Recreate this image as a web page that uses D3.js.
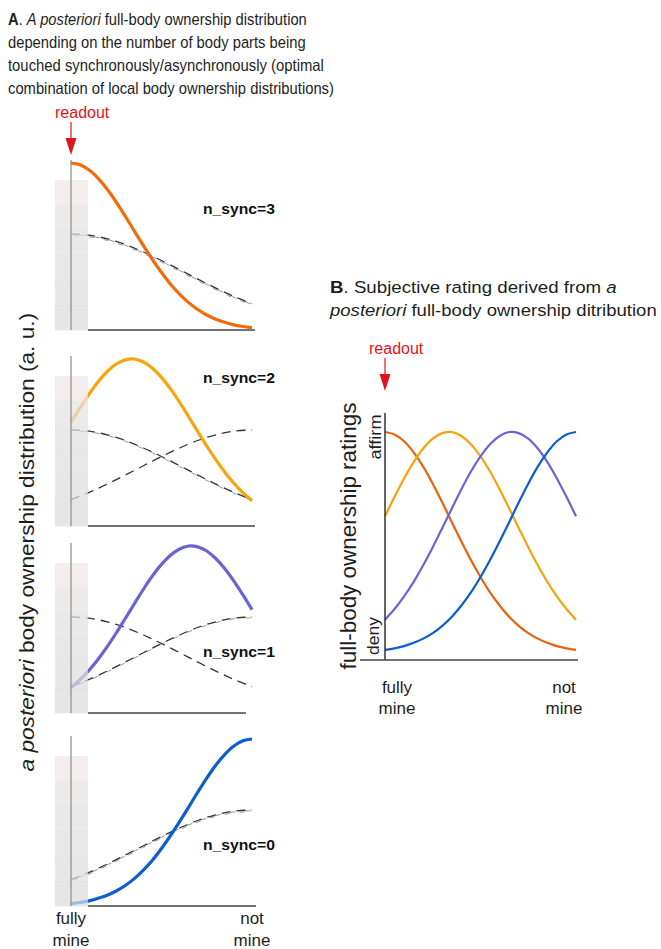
<!DOCTYPE html>
<html><head><meta charset="utf-8">
<script src="https://cdn.jsdelivr.net/npm/d3@7/dist/d3.min.js"></script>
<style>
html,body{margin:0;padding:0;background:#fff;}
svg{display:block;font-family:"Liberation Sans",Arial,Helvetica,sans-serif;}
</style></head>
<body><svg id="c" width="661" height="949"></svg>
<script>
// ---- data ----
const xGrid = [0,0.05,0.1,0.15,0.2,0.25,0.3,0.35,0.4,0.45,0.5,0.55,0.6,0.65,0.7,0.75,0.8,0.85,0.9,0.95,1];
// a posteriori full-body ownership distributions (normalised, 0..1)
const postSync3 = [1,0.989,0.958,0.908,0.843,0.766,0.681,0.592,0.505,0.421,0.344,0.274,0.215,0.164,0.123,0.090,0.065,0.046,0.031,0.021,0.014];
const postSync2 = [0.619,0.707,0.790,0.864,0.925,0.970,0.995,1.0,0.982,0.945,0.890,0.821,0.741,0.654,0.566,0.479,0.397,0.322,0.256,0.199,0.151];
const postSync1 = [0.151,0.199,0.256,0.322,0.397,0.479,0.566,0.654,0.741,0.821,0.890,0.945,0.982,1.0,0.995,0.970,0.925,0.864,0.790,0.707,0.619];
const postSync0 = [0.014,0.021,0.031,0.046,0.065,0.090,0.123,0.164,0.215,0.274,0.344,0.421,0.505,0.592,0.681,0.766,0.843,0.908,0.958,0.989,1];
// local body ownership distributions (dashed)
const likX = [0,0.1,0.2,0.3,0.4,0.5,0.6,0.7,0.8,0.9,1];
const likSync  = [0.575,0.568,0.546,0.512,0.467,0.416,0.361,0.305,0.251,0.201,0.158];
const likAsync = [0.158,0.201,0.251,0.305,0.361,0.416,0.467,0.512,0.546,0.568,0.575];
const nSync  = [3,2,1,0];
const nAsync = [0,1,2,3];
const panelLabels = ["n_sync=3","n_sync=2","n_sync=1","n_sync=0"];
const xTickLabels = [["fully","mine"],["not","mine"]];
const ratingLabels = ["deny","affirm"];
const posteriors = [postSync3,postSync2,postSync1,postSync0];
const colors = ["#f26a0c","#f7a50c","#6b62d6","#0b5dd0"];

const svg = d3.select("#c");
const txt = "#1e1e1e";
const red = "#e3121b";

// horizontally fit a text element to a target width by scaling its group
function fitGroup(g, x, w){
  const bb = g.node().getBBox();
  const s = w / bb.width;
  g.attr("transform", `translate(${x},0) scale(${s},1)`);
}

function readout(g, x, yText, y0, y1){
  g.append("text").attr("x",x-16).attr("y",yText).attr("font-size",16).attr("fill",red).text("readout");
  g.append("line").attr("x1",x).attr("x2",x).attr("y1",y0).attr("y2",y1-15).attr("stroke",red).attr("stroke-width",1.2);
  g.append("path").attr("d",`M${x-5.5},${y1-17}L${x+5.5},${y1-17}L${x},${y1}Z`).attr("fill",red);
}

// ---- Title A ----
const titleA = [
  [[["A","bold"],[". ",""],["A posteriori","italic"],[" full-body ownership distribution",""]],25,299],
  [[["depending on the number of body parts being",""]],48,298],
  [[["touched synchronously/asynchronously (optimal",""]],71,316],
  [[["combination of local body ownership distributions)",""]],94,326]
];
function titleLine(parts, x, y, w){
  const g = svg.append("g");
  const t = g.append("text").attr("x",0).attr("y",y).attr("font-size",16.5).attr("fill",txt);
  parts.forEach(([s,st])=>{
    const ts = t.append("tspan").text(s);
    if(st==="bold") ts.attr("font-weight","bold");
    if(st==="italic") ts.attr("font-style","italic");
  });
  fitGroup(g, x, w);
}
titleA.forEach(([parts,y,w])=>titleLine(parts, 8, y, w));

// ---- Panel A ----
const xA = d3.scaleLinear().domain([0,1]).range([71,252]);
const bottoms = [330,526,713,906];
const xAxisEnd = [255,255,246,256];
readout(svg, xA(0), 118, 122, 155);

const lineGen = (xs, ys, xS, yS) => d3.line().x((d,i)=>xS(xs[i])).y(d=>yS(d)).curve(d3.curveCatmullRom)(ys);

bottoms.forEach((b,i)=>{
  const g = svg.append("g");
  const yA = d3.scaleLinear().domain([0,1]).range([b, b-167]);
  const dashed = [];
  for(let k=0;k<nSync[i];k++) dashed.push({v:likSync,k});
  for(let k=0;k<nAsync[i];k++) dashed.push({v:likAsync,k});
  dashed.forEach(d=>{
    g.append("path").attr("d", lineGen(likX, d.v, xA, v=>yA(v)+d.k*0.8))
      .attr("fill","none").attr("stroke", d.k===0?"#333":"#777").attr("stroke-width",d.k===0?1.3:0.8)
      .attr("stroke-dasharray", d.k===0?"9,6":"5,10").attr("stroke-dashoffset", d.k*6);
  });
  g.append("path").attr("d", lineGen(xGrid, posteriors[i], xA, yA))
    .attr("fill","none").attr("stroke",colors[i]).attr("stroke-width",3.2);
  const top = b-150, nb = 6, bh = (b-top)/nb;
  const bandFill = ["#efe6e6","#e6e2e2","#e2e0e0","#e0dfdf","#dedede","#dcdcdc"];
  for(let k=0;k<nb;k++){
    g.append("rect").attr("x",55).attr("y",top+k*bh).attr("width",33).attr("height",bh+0.5)
      .attr("fill",bandFill[k]).attr("opacity",0.72);
  }
  g.append("line").attr("x1",xA(0)).attr("x2",xA(0)).attr("y1",b-170).attr("y2",b).attr("stroke","#8a8a8a").attr("stroke-width",1.2);
  g.append("line").attr("x1",88).attr("x2",xAxisEnd[i]).attr("y1",b).attr("y2",b).attr("stroke","#444").attr("stroke-width",1.6);
  const ly = [214,383,657,850][i];
  g.append("text").attr("x",203).attr("y",ly).attr("font-size",15).attr("font-weight","bold").attr("fill","#111")
    .attr("textLength",72).attr("lengthAdjust","spacingAndGlyphs").text(panelLabels[i]);
});

[[71,xTickLabels[0]],[252,xTickLabels[1]]].forEach(([x,ls])=>{
  ls.forEach((s,j)=>svg.append("text").attr("x",x).attr("y",924+j*22).attr("text-anchor","middle")
    .attr("font-size",17).attr("fill",txt).text(s));
});

// y label A (rotated, fitted to length by scaling)
{
  const outer = svg.append("g").attr("transform","translate(34,542) rotate(-90)");
  const inner = outer.append("g");
  const yl = inner.append("text").attr("x",0).attr("y",0).attr("font-size",21).attr("fill",txt);
  yl.append("tspan").attr("font-style","italic").text("a posteriori");
  yl.append("tspan").text(" body ownership distribution (a. u.)");
  const w = yl.node().getBBox().width;
  const s = 459 / w;
  inner.attr("transform", `translate(${-229.5},0) scale(${s},1)`);
}

// ---- Title B ----
titleLine([["B","bold"],[". Subjective rating derived from ",""],["a","italic"]], 330, 293, 287);
titleLine([["posteriori","italic"],[" full-body ownership ditribution",""]], 330, 316, 328);

// ---- Panel B ----
const xB = d3.scaleLinear().domain([0,1]).range([385,576]);
const yB = d3.scaleLinear().domain([0,1]).range([653,432]);
readout(svg, xB(0), 354, 358, 391);
posteriors.forEach((p,i)=>{
  svg.append("path").attr("d", lineGen(xGrid, p, xB, yB)).attr("fill","none")
    .attr("stroke",["#e8620e","#f6a20e","#6d62d3","#0b5ccf"][i]).attr("stroke-width",2.2);
});
svg.append("line").attr("x1",xB(0)).attr("x2",xB(0)).attr("y1",413).attr("y2",660).attr("stroke","#333").attr("stroke-width",1.5);
svg.append("line").attr("x1",360).attr("x2",578).attr("y1",660).attr("y2",660).attr("stroke","#444").attr("stroke-width",1.6);
svg.append("text").attr("transform","translate(381,437) rotate(-90)").attr("text-anchor","middle").attr("font-size",16).attr("fill",txt)
  .attr("textLength",45).attr("lengthAdjust","spacingAndGlyphs").text(ratingLabels[1]);
svg.append("text").attr("transform","translate(379,636) rotate(-90)").attr("text-anchor","middle").attr("font-size",16).attr("fill",txt)
  .attr("textLength",38).attr("lengthAdjust","spacingAndGlyphs").text(ratingLabels[0]);
svg.append("text").attr("transform","translate(356,536) rotate(-90)").attr("text-anchor","middle").attr("font-size",21.5).attr("fill",txt)
  .attr("textLength",267).attr("lengthAdjust","spacingAndGlyphs").text("full-body ownership ratings");
[[397,xTickLabels[0]],[564,xTickLabels[1]]].forEach(([x,ls])=>{
  ls.forEach((s,j)=>svg.append("text").attr("x",x).attr("y",693+j*21).attr("text-anchor","middle")
    .attr("font-size",17).attr("fill",txt).text(s));
});
</script>
</body></html>
